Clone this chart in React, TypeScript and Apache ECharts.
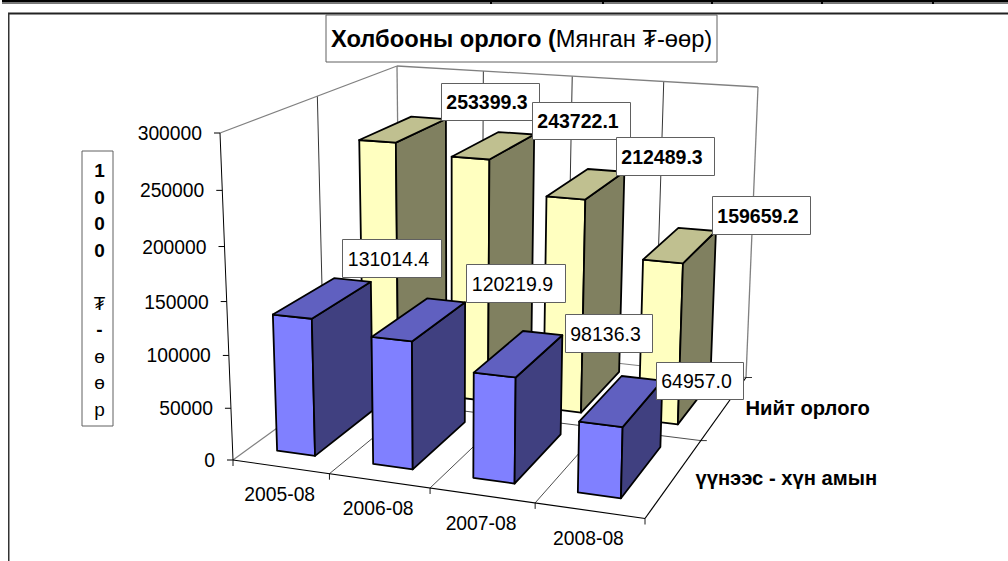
import React, { useEffect, useRef } from "react";
import * as echarts from "echarts";

const categories = ["2005-08", "2006-08", "2007-08", "2008-08"];
const seriesNames = ["үүнээс - хүн амын", "Нийт орлого"];
const populationIncome = [131014.4, 120219.9, 98136.3, 64957.0];
const totalIncome = [253399.3, 243722.1, 212489.3, 159659.2];
const yTicks = [0, 50000, 100000, 150000, 200000, 250000, 300000];

const FONT = '"Liberation Sans", Arial, sans-serif';
const G = { left: 233, top: 133, width: 412, height: 327 };

type P = [number, number];
function homography(p00: P, p10: P, p11: P, p01: P) {
  const dx1 = p10[0] - p11[0], dx2 = p01[0] - p11[0], sx = p00[0] - p10[0] + p11[0] - p01[0];
  const dy1 = p10[1] - p11[1], dy2 = p01[1] - p11[1], sy = p00[1] - p10[1] + p11[1] - p01[1];
  const det = dx1 * dy2 - dx2 * dy1;
  const g = (sx * dy2 - dx2 * sy) / det;
  const h = (dx1 * sy - sx * dy1) / det;
  const a = p10[0] - p00[0] + g * p10[0], b = p01[0] - p00[0] + h * p01[0], c = p00[0];
  const d = p10[1] - p00[1] + g * p10[1], e = p01[1] - p00[1] + h * p01[1], f = p00[1];
  return (u: number, v: number): P => {
    const w = g * u + h * v + 1;
    return [(a * u + b * v + c) / w, (d * u + e * v + f) / w];
  };
}
const floor = homography([233, 460], [645, 518.5], [746, 377.5], [400, 339]);
const ceil = homography([220, 133], [654, 164], [758, 87], [397, 66]);
const K = 0.94;
function proj(u: number, v: number, h: number): P {
  const a = floor(u, v), b = ceil(u, v);
  const t = (h * K) / (1 + (K - 1) * h);
  return [a[0] + (b[0] - a[0]) * t, a[1] + (b[1] - a[1]) * t];
}

const line = (a: P, b: P, stroke: string, lineWidth: number) => ({
  type: "line",
  silent: true,
  shape: { x1: a[0], y1: a[1], x2: b[0], y2: b[1] },
  style: { stroke, lineWidth },
});
const poly = (pts: P[], fill: string) => ({
  type: "polygon",
  silent: true,
  shape: { points: pts },
  style: { fill, stroke: "#000", lineWidth: 1.8, lineJoin: "round" },
});

const GRAY = "#808080";
function renderWalls() {
  const c: any[] = [];
  [0.25, 0.5, 0.75].forEach((u) => {
    c.push(line(proj(u, 1, 0), proj(u, 1, 1), "#000", 0.8));
    c.push(line(proj(u, 0, 0), proj(u, 1, 0), "#000", 0.7));
  });
  c.push(line(proj(0, 0.5, 0), proj(0, 0.5, 1), "#000", 0.8));
  c.push(line(proj(0, 0.5, 0), proj(1, 0.5, 0), "#000", 0.7));
  c.push(line(proj(0, 0, 1), proj(0, 1, 1), GRAY, 1.3));
  c.push(line(proj(0, 1, 1), proj(1, 1, 1), GRAY, 1.3));
  c.push(line(proj(0, 1, 0), proj(0, 1, 1), GRAY, 1.3));
  c.push(line(proj(1, 1, 0), proj(1, 1, 1), GRAY, 1.3));
  c.push(line(proj(0, 0, 0), proj(0, 1, 0), GRAY, 1.2));
  c.push(line(proj(0, 1, 0), proj(1, 1, 0), GRAY, 1.2));
  c.push(line(proj(0, 0, 0), proj(0, 0, 1), "#000", 1));
  c.push(line(proj(0, 0, 0), proj(1, 0, 0), "#000", 1.2));
  c.push(line(proj(1, 0, 0), proj(1, 1, 0), "#000", 1.2));
  [0.5, 1].forEach((v) => {
    const p = proj(1, v, 0);
    c.push(line(p, [p[0] + 6, p[1]], "#000", 0.8));
  });
  return { type: "group", children: c };
}

function heightOf(api: any, value: number) {
  return (G.top + G.height - api.coord([0, value])[1]) / G.height;
}
const BAR_SHIFT = -0.005;
function barRenderer(vf: number, vb: number, front: string, top: string, side: string) {
  return (_p: any, api: any) => {
    const cx = (api.coord([api.value(0), 0])[0] - G.left) / G.width + BAR_SHIFT;
    const hw = (api.size([1, 0])[0] / G.width) * 0.2;
    const uL = cx - hw, uR = cx + hw;
    const h = heightOf(api, api.value(1));
    return {
      type: "group",
      children: [
        poly([proj(uL, vf, 0), proj(uR, vf, 0), proj(uR, vf, h), proj(uL, vf, h)], front),
        poly([proj(uR, vf, 0), proj(uR, vb, 0), proj(uR, vb, h), proj(uR, vf, h)], side),
        poly([proj(uL, vf, h), proj(uR, vf, h), proj(uR, vb, h), proj(uL, vb, h)], top),
      ],
    };
  };
}

const tickFont = `19.3px ${FONT}`;
function renderYTick(_p: any, api: any) {
  const v = api.value(1);
  const p = proj(0, 0, heightOf(api, v));
  return {
    type: "group",
    children: [
      line([p[0] - 6, p[1]], p, "#000", 1),
      {
        type: "text",
        silent: true,
        style: { text: String(v), x: p[0] - 18, y: p[1] + 0.5, font: tickFont, fill: "#000", align: "right", verticalAlign: "middle" },
      },
    ],
  };
}
function renderCat(p0: any, api: any) {
  const u = (api.coord([api.value(0), 0])[0] - G.left) / G.width;
  const edge = api.value(0) / categories.length;
  const pm = proj(u, 0, 0);
  const pe = proj(edge, 0, 0);
  const children: any[] = [
    line(pe, [pe[0], pe[1] + 6], "#000", 0.9),
    {
      type: "text",
      silent: true,
      style: { text: categories[p0.dataIndex], x: pm[0] - 1, y: pm[1] + 28, font: tickFont, fill: "#000", align: "center", verticalAlign: "middle" },
    },
  ];
  if (p0.dataIndex === categories.length - 1) {
    const pr = proj(1, 0, 0);
    children.push(line(pr, [pr[0], pr[1] + 6], "#000", 0.9));
  }
  return { type: "group", children };
}
const depthCentres = [0.25, 0.75];
function renderDepth(p0: any) {
  const p = proj(1, depthCentres[p0.dataIndex], 0);
  return {
    type: "text",
    silent: true,
    style: { text: seriesNames[p0.dataIndex], x: p[0] + 21, y: p[1] + 1, font: `bold 20.2px ${FONT}`, fill: "#000", align: "left", verticalAlign: "middle" },
  };
}

const labelBoxes: { x: number; y: number; w: number; h: number }[] = [
  { x: 441, y: 83, w: 98, h: 37 },
  { x: 532, y: 102, w: 98, h: 37 },
  { x: 616, y: 137, w: 98, h: 38 },
  { x: 712, y: 196, w: 98, h: 38 },
  { x: 342, y: 239, w: 99, h: 38 },
  { x: 466, y: 264, w: 99, h: 38 },
  { x: 565, y: 314, w: 87, h: 38 },
  { x: 656, y: 362, w: 87, h: 37 },
];
const labelValues = [...totalIncome, ...populationIncome];
function renderLabel(p0: any) {
  const b = labelBoxes[p0.dataIndex];
  const bold = p0.dataIndex < totalIncome.length;
  return {
    type: "group",
    children: [
      { type: "rect", silent: true, shape: { x: b.x + 0.5, y: b.y + 0.5, width: b.w, height: b.h }, style: { fill: "#fff", stroke: "#606060", lineWidth: 1 } },
      {
        type: "text",
        silent: true,
        style: {
          text: labelValues[p0.dataIndex].toFixed(1),
          x: b.x + b.w / 2 - 3,
          y: b.y + b.h / 2 + 0.5,
          font: `${bold ? "bold " : ""}19.5px ${FONT}`,
          fill: "#000",
          align: "center",
          verticalAlign: "middle",
        },
      },
    ],
  };
}

const custom = (renderItem: any, data: any[]) => ({
  type: "custom",
  coordinateSystem: "cartesian2d",
  renderItem,
  data,
  silent: true,
  clip: false,
  encode: { x: 0, y: 1 },
});

const yTitle = ["{b|1}", "{b|0}", "{b|0}", "{b|0}", "{n| }", "{n|₮}", "{b|-}", "{n|ө}", "{n|ө}", "{n|р}"].join("\n");

export default function App() {
  const ref = useRef<HTMLDivElement>(null);
  useEffect(() => {
    document.body.style.margin = "0";
    const chart = echarts.init(ref.current!, undefined, { renderer: "svg" });
    chart.setOption({
      animation: false,
      backgroundColor: "#fff",
      grid: { left: G.left, top: G.top, width: G.width, height: G.height },
      xAxis: { type: "category", data: categories, show: false },
      yAxis: { type: "value", min: 0, max: 300000, interval: 50000, show: false },
      graphic: [
        { type: "rect", silent: true, shape: { x: 2, y: 0, width: 1006, height: 2.5 }, style: { fill: "#000" } },
        { type: "rect", silent: true, shape: { x: 2, y: 2.5, width: 1006, height: 1.5 }, style: { fill: "#777" } },
        ...[490, 602, 711, 821, 932].map((x) => ({ type: "rect", silent: true, shape: { x, y: 0, width: 2, height: 4 }, style: { fill: "#000" } })),
        { type: "rect", silent: true, shape: { x: 8, y: 12.5, width: 1000, height: 2 }, style: { fill: "#222" } },
        { type: "rect", silent: true, shape: { x: 8, y: 13, width: 1.5, height: 548 }, style: { fill: "#333" } },
        { type: "rect", silent: true, shape: { x: 326, y: 15, width: 391, height: 47 }, style: { fill: "#fff", stroke: "#606060", lineWidth: 1 } },
        {
          type: "text",
          silent: true,
          style: {
            x: 331,
            y: 39,
            verticalAlign: "middle",
            text: "{b|Холбооны орлого (}{n|Мянган ₮-өөр)}",
            rich: {
              b: { font: `bold 23.7px ${FONT}`, fill: "#000" },
              n: { font: `23.7px ${FONT}`, fill: "#000" },
            },
          },
        },
        { type: "rect", silent: true, shape: { x: 82, y: 151, width: 31, height: 275 }, style: { fill: "#fff", stroke: "#606060", lineWidth: 1 } },
        {
          type: "text",
          silent: true,
          style: {
            x: 99.5,
            y: 290,
            align: "center",
            verticalAlign: "middle",
            text: yTitle,
            rich: {
              b: { font: `bold 19px ${FONT}`, fill: "#000", lineHeight: 26.5, align: "center" },
              n: { font: `19px ${FONT}`, fill: "#000", lineHeight: 26.5, align: "center" },
            },
          },
        },
      ],
      series: [
        custom(renderWalls, [[0, 0]]),
        custom(renderYTick, yTicks.map((v) => [0, v])),
        custom(renderCat, categories.map((_, i) => [i, 0])),
        custom(barRenderer(0.59, 0.93, "#FFFFC0", "#C0C090", "#808060"), totalIncome.map((v, i) => [i, v])),
        custom(barRenderer(0.09, 0.425, "#8080FF", "#6060C0", "#404080"), populationIncome.map((v, i) => [i, v])),
        custom(renderDepth, seriesNames.map(() => [0, 0])),
        custom(renderLabel, labelValues.map(() => [0, 0])),
      ],
    });
    return () => chart.dispose();
  }, []);
  return <div ref={ref} style={{ position: "absolute", left: 0, top: 0, width: 1008, height: 561, overflow: "hidden" }} />;
}
